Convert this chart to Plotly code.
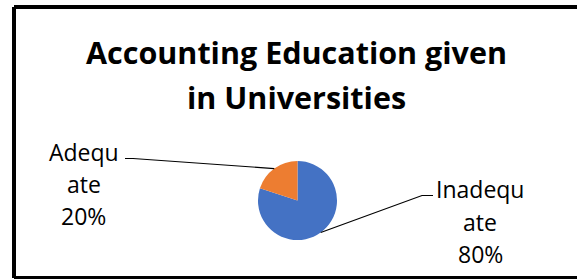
import math
import plotly.graph_objects as go

# ---- data ----
categories = ["Inadequate", "Adequate"]
values = [80, 20]
colors = ["#4472C4", "#ED7D31"]
title_lines = ["Accounting Education given", "in Universities"]

W, H = 590, 279  # figure slightly wider than the window so the frame's right side is off-screen

def px(x):
    return x / W

def py(y):
    return 1 - y / H

# pie geometry (pixels)
cx, cy, r = 297.5, 200.5, 39.5

fig = go.Figure(go.Pie(
    labels=categories, values=values, sort=False, direction="clockwise", rotation=0,
    marker=dict(colors=colors, line=dict(width=0)),
    textinfo="none", hoverinfo="label+percent", showlegend=False,
    domain=dict(x=[px(cx - r), px(cx + r)], y=[py(cy + r), py(cy - r)]),
))

FONT = "Open Sans"
annotations = []
# title (two lines, explicit spacing)
title_y = [52.0, 96.5]
for t, yy in zip(title_lines, title_y):
    annotations.append(dict(text="<b>" + t + "</b>", x=px(296), y=py(yy), xref="paper", yref="paper",
                            xanchor="center", yanchor="middle", showarrow=False,
                            font=dict(family=FONT, size=30.5, color="#000000")))

# data labels and leader lines
label_pos = {"Inadequate": dict(cx=480, ys=[188.5, 221.5, 254.0], elbow=(422, 195.5), end=(433, 195.5)),
             "Adequate": dict(cx=83.5, ys=[152.0, 184.0, 216.0], elbow=(133, 158.5), end=(125, 158.5))}
total = sum(values)
shapes = []
cum = 0
for cat, v in zip(categories, values):
    mid = (cum + v / 2) / total * 2 * math.pi  # clockwise from top
    cum += v
    ex = cx + r * math.sin(mid)
    ey = cy - r * math.cos(mid)
    lp = label_pos[cat]
    lines = [cat[:-3], cat[-3:], f"{round(v / total * 100)}%"]
    for txt, yy in zip(lines, lp["ys"]):
        annotations.append(dict(text=txt, x=px(lp["cx"]), y=py(yy), xref="paper", yref="paper",
                                xanchor="center", yanchor="middle", showarrow=False,
                                font=dict(family=FONT, size=23, color="#000000")))
    (bx, by), (tx, ty) = lp["elbow"], lp["end"]
    path = f"M {px(ex)},{py(ey)} L {px(bx)},{py(by)} L {px(tx)},{py(ty)}"
    shapes.append(dict(type="path", path=path, xref="paper", yref="paper",
                       line=dict(color="#000000", width=1.2)))

# chart frame (left, top and bottom edges; right edge falls outside the picture)
fx0, fy0, fy1 = 14, 7, 278
for (xa, ya, xb, yb) in [(fx0, fy0, W, fy0), (fx0, fy0, fx0, fy1), (fx0, fy1, W, fy1)]:
    shapes.append(dict(type="line", xref="paper", yref="paper",
                       x0=px(xa), y0=py(ya), x1=px(xb), y1=py(yb),
                       line=dict(color="#000000", width=4)))

fig.update_layout(width=W, height=H, margin=dict(l=0, r=0, t=0, b=0),
                  paper_bgcolor="white", plot_bgcolor="white",
                  annotations=annotations, shapes=shapes)
fig.write_html("out.html", config={"displayModeBar": False},
               post_script="document.body.style.margin='0';document.body.style.overflow='hidden';")
